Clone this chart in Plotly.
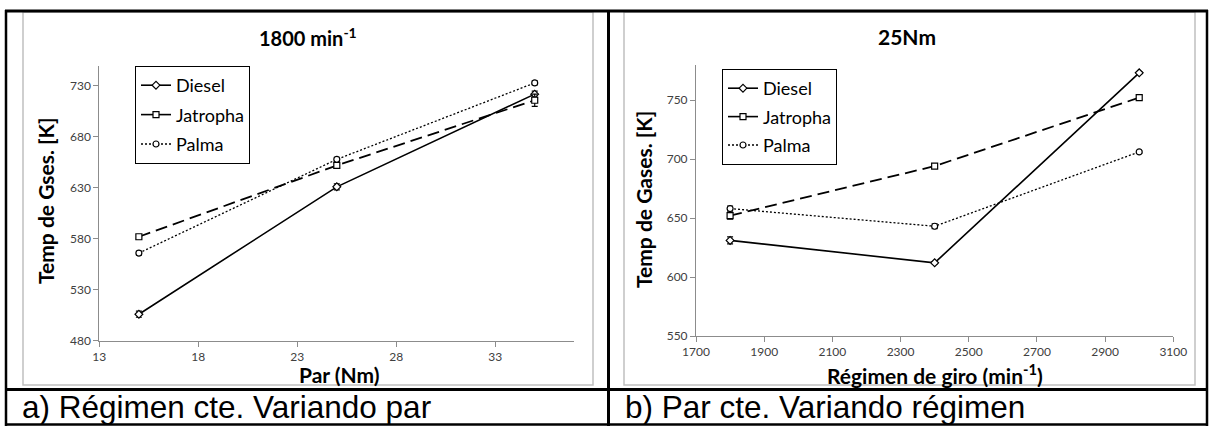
import plotly.graph_objects as go

W, H = 1209, 427

# ---------- data ----------
series = ["Diesel", "Jatropha", "Palma"]
par_nm = [15, 25, 35]
par_diesel = [506, 631, 722]
par_jatropha = [582, 652, 716]
par_palma = [566, 658, 733]
par_err_diesel = [3, 3, 3]
par_err_jatropha = [2, 3, 6]
par_err_palma = [2, 2, 2]

rpm = [1800, 2400, 3000]
rpm_diesel = [631, 612, 773]
rpm_jatropha = [652, 694, 752]
rpm_palma = [658, 643, 706]
rpm_err_diesel = [3, 1, 1]
rpm_err_jatropha = [3, 2, 2]
rpm_err_palma = [2, 2, 1]

left_xticks = [13, 18, 23, 28, 33]
left_yticks = [480, 530, 580, 630, 680, 730]
right_xticks = [1700, 1900, 2100, 2300, 2500, 2700, 2900, 3100]
right_yticks = [550, 600, 650, 700, 750]

# ---------- styles ----------
FONT = "Lato"
styles = {
    "Diesel": dict(symbol="diamond", size=6, dash="solid", legdash="solid", width=1.6),
    "Jatropha": dict(symbol="square", size=6, dash="12px,6px", legdash="solid", width=1.8),
    "Palma": dict(symbol="circle", size=6, dash="2px,2px", legdash="2px,2px", width=1.3),
}

fig = go.Figure()

def add_series(x, ys, errs, xa, ya, legend):
    for i, (name, y, e) in enumerate(zip(series, ys, errs)):
        st = styles[name]
        fig.add_trace(go.Scatter(
            x=x, y=y, mode="lines+markers", name=name, showlegend=False,
            xaxis=xa, yaxis=ya,
            line=dict(color="black", width=st["width"], dash=st["dash"]),
            marker=dict(symbol=st["symbol"], size=st["size"], color="white",
                        line=dict(color="black", width=1.2)),
            error_y=dict(type="data", array=e, visible=True, color="black",
                         thickness=1.2, width=3),
        ))
        # legend entry (reference legend shows its own line style)
        fig.add_trace(go.Scatter(
            x=[None], y=[None], mode="lines+markers", name=name,
            xaxis=xa, yaxis=ya, legend=legend, legendgroup=legend + name,
            legendrank=i + 1,
            line=dict(color="black", width=1.6, dash=st["legdash"]),
            marker=dict(symbol=st["symbol"], size=6, color="white",
                        line=dict(color="black", width=1.2)),
        ))

add_series(par_nm, [par_diesel, par_jatropha, par_palma],
           [par_err_diesel, par_err_jatropha, par_err_palma], "x", "y", "legend")
add_series(rpm, [rpm_diesel, rpm_jatropha, rpm_palma],
           [rpm_err_diesel, rpm_err_jatropha, rpm_err_palma], "x2", "y2", "legend2")

axis_common = dict(
    showgrid=False, zeroline=False, showline=True, linecolor="#8c8c8c", linewidth=1,
    ticks="outside", tickcolor="#8c8c8c", ticklen=5, tickwidth=1, automargin=False,
    tickfont=dict(family=FONT, size=12, color="#404040"), fixedrange=True,
)

fig.update_layout(
    width=W, height=H, margin=dict(l=0, r=0, t=0, b=0, autoexpand=False),
    paper_bgcolor="white", plot_bgcolor="white",
    font=dict(family=FONT, color="black"),
    xaxis=dict(domain=[99.3 / W, 574.3 / W], range=[13, 37], tickvals=left_xticks,
               anchor="y", **axis_common),
    yaxis=dict(domain=[1 - 340.7 / H, 1 - 65.6 / H], range=[480, 750], tickvals=left_yticks,
               anchor="x", **axis_common),
    xaxis2=dict(domain=[696 / W, 1173.3 / W], range=[1700, 3100], tickvals=right_xticks,
                anchor="y2", **axis_common),
    yaxis2=dict(domain=[1 - 336 / H, 1 - 64.6 / H], range=[550, 780], tickvals=right_yticks,
                anchor="x2", **axis_common),
    legend=dict(x=135 / W, y=1 - 66 / H, xanchor="left", yanchor="top",
                bgcolor="white", bordercolor="black", borderwidth=1,
                font=dict(family=FONT, size=18), tracegroupgap=3, itemwidth=30),
    legend2=dict(x=722 / W, y=1 - 69 / H, xanchor="left", yanchor="top",
                 bgcolor="white", bordercolor="black", borderwidth=1,
                 font=dict(family=FONT, size=18), tracegroupgap=2, itemwidth=30),
)

shapes = []
# chart-area frames (light gray)
for x0, x1 in [(23, 593), (624, 1195)]:
    shapes.append(dict(type="rect", xref="paper", yref="paper",
                       x0=x0 / W, x1=x1 / W, y0=1 - 385 / H, y1=1 - 12 / H,
                       line=dict(color="#c0c0c0", width=1.5), layer="below"))
# table borders (black)
def hline(y, x0, x1, w):
    shapes.append(dict(type="line", xref="paper", yref="paper",
                       x0=x0 / W, x1=x1 / W, y0=1 - y / H, y1=1 - y / H,
                       line=dict(color="black", width=w)))
def vline(x, y0, y1, w):
    shapes.append(dict(type="line", xref="paper", yref="paper",
                       x0=x / W, x1=x / W, y0=1 - y0 / H, y1=1 - y1 / H,
                       line=dict(color="black", width=w)))
hline(11, 5, 1208, 3)
hline(389.5, 5, 1208, 3)
hline(424.5, 5, 1208, 2.5)
vline(6, 10, 426, 2.5)
vline(608.5, 10, 426, 3)
vline(1207, 10, 426, 2.5)
fig.update_layout(shapes=shapes)

ann = []
def text(x, y, s, size, bold=False, angle=0, family=FONT, xanchor="center"):
    ann.append(dict(xref="paper", yref="paper", x=x / W, y=1 - y / H, text=s,
                    showarrow=False, textangle=angle, xanchor=xanchor, yanchor="middle",
                    font=dict(family=family, size=size, color="black")))

text(308, 37, "<b>1800 min<sup>-1</sup></b>", 20)
text(907, 37, "<b>25Nm</b>", 21)
text(45, 201, "<b>Temp de Gses. [K]</b>", 21, angle=-90)
text(643, 200, "<b>Temp de Gases. [K]</b>", 21, angle=-90)
text(339, 374, "<b>Par (Nm)</b>", 21)
text(935, 374, "<b>Régimen de giro (min<sup>-1</sup>)</b>", 21)
text(20, 407, "a) Régimen cte. Variando par", 31.5, family="Liberation Sans", xanchor="left")
text(623, 407, "b) Par cte. Variando régimen", 31.5, family="Liberation Sans", xanchor="left")
fig.update_layout(annotations=ann)

fig.write_html("out.html", config={"displayModeBar": False},
               post_script="document.body.style.margin='0px';")
